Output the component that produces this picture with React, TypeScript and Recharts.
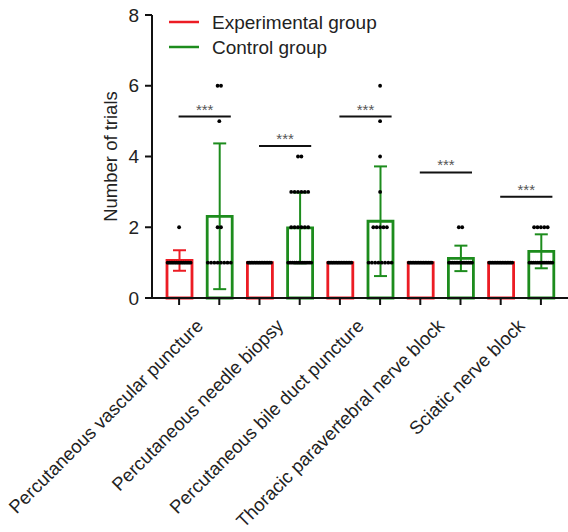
import React from 'react';
import { ComposedChart, Bar, Cell, ErrorBar, Scatter, XAxis, YAxis, ReferenceLine, Legend, Label } from 'recharts';

const categories = [
  'Percutaneous vascular puncture',
  'Percutaneous needle biopsy',
  'Percutaneous bile duct puncture',
  'Thoracic paravertebral nerve block',
  'Sciatic nerve block',
];

// mean ± SD
const expMean = [1.06, 1, 1, 1, 1];
const expSd = [0.29, null, null, null, null];
const ctrlMean = [2.31, 1.98, 2.17, 1.12, 1.32];
const ctrlSd = [2.06, 1.0, 1.55, 0.36, 0.48];

// height of the *** bracket for each category
const sigHeight = [5.13, 4.3, 5.13, 3.55, 2.86];

// individual trials (dots)
const expPoints = [
  [1, 1, 1, 1, 1, 1, 1, 1, 1, 1, 1, 1, 1, 1, 2],
  [1, 1, 1, 1, 1, 1, 1, 1, 1, 1, 1, 1, 1, 1, 1],
  [1, 1, 1, 1, 1, 1, 1, 1, 1, 1, 1, 1, 1, 1, 1],
  [1, 1, 1, 1, 1, 1, 1, 1, 1, 1, 1, 1, 1, 1, 1],
  [1, 1, 1, 1, 1, 1, 1, 1, 1, 1, 1, 1, 1, 1, 1],
];
const ctrlPoints = [
  [1, 1, 1, 1, 1, 1, 1, 1, 2, 2, 5, 6, 6],
  [1, 1, 1, 1, 1, 1, 1, 1, 1, 1, 1, 1, 2, 2, 2, 2, 2, 2, 3, 3, 3, 3, 3, 3, 4, 4],
  [1, 1, 1, 1, 1, 1, 1, 1, 2, 2, 2, 2, 2, 3, 4, 5, 6],
  [1, 1, 1, 1, 1, 1, 1, 1, 1, 1, 1, 1, 1, 1, 2, 2],
  [1, 1, 1, 1, 1, 1, 1, 1, 1, 1, 1, 1, 2, 2, 2, 2, 2],
];

const yTicks = [0, 2, 4, 6, 8];
const legendItems = ['Experimental group', 'Control group'];

const RED = '#ec1c24';
const GREEN = '#1d8c1d';
const FONT = '"Liberation Sans", Arial, Helvetica, sans-serif';

const rows = categories.flatMap((cat, i) => [
  { key: `${i}-exp`, cat, group: 'exp', mean: expMean[i], expErr: expSd[i] },
  { key: `${i}-ctrl`, cat, group: 'ctrl', mean: ctrlMean[i], ctrlErr: ctrlSd[i] },
]);

const dots = rows.flatMap((r, j) => {
  const i = Math.floor(j / 2);
  const vals = r.group === 'exp' ? expPoints[i] : ctrlPoints[i];
  const seen: Record<number, number> = {};
  return vals.map((v) => {
    const k = seen[v] ?? 0;
    seen[v] = k + 1;
    return { key: r.key, v, k, n: vals.filter((x) => x === v).length };
  });
});

const Dot = (props: any) => {
  const { cx, cy, payload } = props;
  const { k, n } = payload;
  const step = n > 1 ? Math.min(3.4, 23 / (n - 1)) : 0;
  return <circle cx={cx + (k - (n - 1) / 2) * step} cy={cy} r={1.9} fill="#000" />;
};

const SigBracket = (props: any) => {
  const { x1, y1, x2 } = props;
  const left = x1 - 0.5;
  const right = x2 + 11.5;
  return (
    <g>
      <line x1={left} y1={y1} x2={right} y2={y1} stroke="#111" strokeWidth={2} />
      <text x={(left + right) / 2} y={y1 - 2} textAnchor="middle" fontSize={15} fill="#555" fontFamily={FONT}>
        ***
      </text>
    </g>
  );
};

const EmptyTick = () => <g />;

const CatTick = ({ x, y, payload }: any) => {
  const ax = x + 5;
  const ay = y + 11;
  return (
    <text x={ax} y={ay} transform={`rotate(-45, ${ax}, ${ay})`} textAnchor="end" fontSize={18.5} fill="#222" fontFamily={FONT}>
      {payload.value}
    </text>
  );
};

const LegendBox = () => (
  <svg width={250} height={60}>
    {legendItems.map((label, i) => (
      <g key={label}>
        <line x1={9} x2={39} y1={22 + i * 25} y2={22 + i * 25} stroke={i === 0 ? RED : GREEN} strokeWidth={2.5} />
        <text x={52} y={29 + i * 25} fontSize={19} fill="#222" fontFamily={FONT}>
          {label}
        </text>
      </g>
    ))}
  </svg>
);

export default function App() {
  return (
    <div style={{ position: 'absolute', left: 0, top: 0, fontFamily: FONT }}>
      <ComposedChart width={568} height={532} data={rows} margin={{ top: 15, right: 0, left: 68, bottom: 0 }}>
        <XAxis
          dataKey="key"
          type="category"
          allowDuplicatedCategory={false}
          interval={0}
          height={10}
          padding={{ left: 7, right: 7 }}
          tick={EmptyTick}
          tickSize={7}
          axisLine={{ stroke: '#111', strokeWidth: 2 }}
          tickLine={{ stroke: '#111', strokeWidth: 2 }}
        />
        <XAxis
          xAxisId="pairs"
          dataKey="cat"
          type="category"
          allowDuplicatedCategory={false}
          interval={0}
          height={224}
          padding={{ left: 7, right: 7 }}
          axisLine={false}
          tickLine={false}
          tick={CatTick}
        />
        <YAxis
          type="number"
          domain={[0, 8]}
          ticks={yTicks}
          width={84}
          tickSize={7}
          tickMargin={6}
          axisLine={{ stroke: '#111', strokeWidth: 2 }}
          tickLine={{ stroke: '#111', strokeWidth: 2 }}
          tick={{ fontSize: 19, fill: '#222', fontFamily: FONT }}
        >
          <Label value="Number of trials" angle={-90} position="center" style={{ fontSize: 18.5, fill: '#222', fontFamily: FONT }} />
        </YAxis>
        <Legend
          layout="vertical"
          align="center"
          verticalAlign="middle"
          content={LegendBox}
          wrapperStyle={{ top: 0, left: 160, width: 250, height: 60 }}
        />
        <Bar dataKey="mean" barSize={25} isAnimationActive={false}>
          {rows.map((r) => (
            <Cell key={r.key} fill="#fff" stroke={r.group === 'exp' ? RED : GREEN} strokeWidth={2.8} />
          ))}
          <ErrorBar dataKey="expErr" direction="y" width={6.5} stroke={RED} strokeWidth={2} />
          <ErrorBar dataKey="ctrlErr" direction="y" width={6.5} stroke={GREEN} strokeWidth={2} />
        </Bar>
        <Scatter data={dots} dataKey="v" shape={Dot} isAnimationActive={false} />
        {categories.map((_, i) => (
          <ReferenceLine
            key={i}
            segment={[
              { x: `${i}-exp`, y: sigHeight[i] },
              { x: `${i}-ctrl`, y: sigHeight[i] },
            ]}
            shape={SigBracket}
          />
        ))}
      </ComposedChart>
    </div>
  );
}
